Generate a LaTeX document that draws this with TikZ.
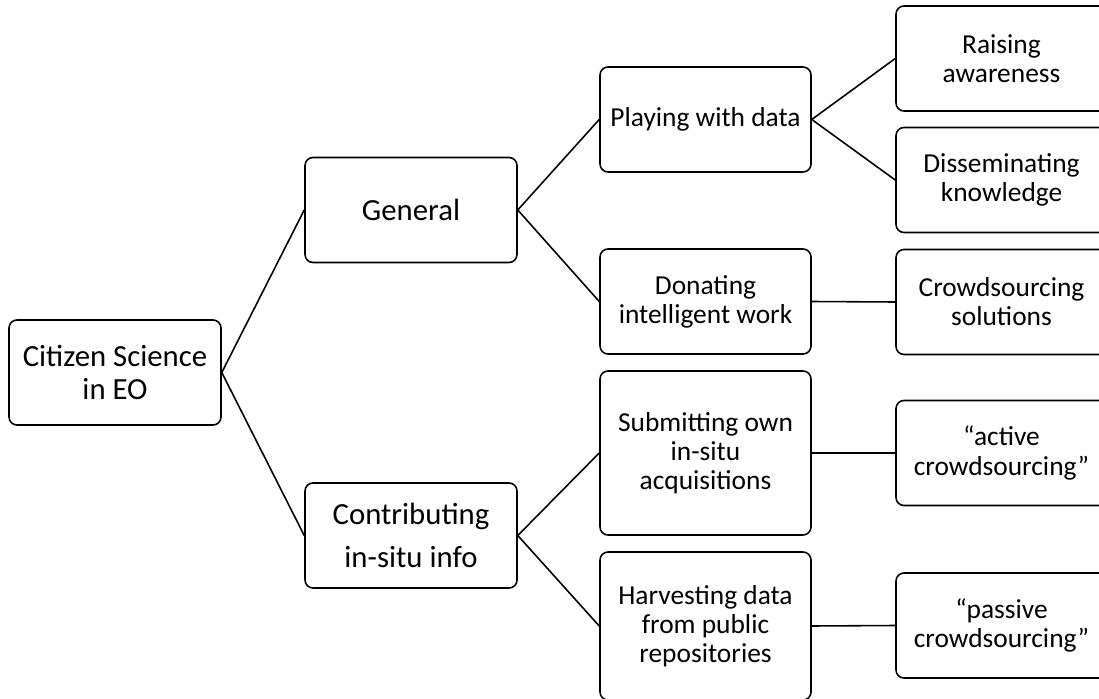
\documentclass[tikz,border=0pt]{standalone}
\usepackage{fontspec}
\setmainfont{Carlito}
\tikzset{
  box/.style={draw, line width=0.9pt, rounded corners=4.5pt, align=center,
    minimum width=4.22cm, minimum height=2.1cm, inner sep=2pt,
    font=\fontsize{15.6}{16.6}\selectfont},
  bigbox/.style={box, minimum width=4.24cm, font=\fontsize{17.5}{18.8}\selectfont},
  link/.style={line width=0.9pt}
}
\begin{document}
\begin{tikzpicture}[x=0.02cm,y=-0.02cm]
\clip (0,0) rectangle (1099,699);
% first levels
\node[bigbox] (cs) at (115,372.5) {Citizen Science\\in EO};
\node[bigbox] (gen) at (411,210) {General};
\node[bigbox] (contrib) at (411,535.5) {Contributing\\[6pt]in-situ info};
% middle column
\node[box] (play) at (705.5,119.5) {Playing with data};
\node[box] (donate) at (705.5,301.5) {Donating\\intelligent work};
\node[box, minimum height=3.28cm] (submit) at (705.5,453) {Submitting own\\in-situ\\acquisitions};
\node[box, minimum height=2.96cm] (harvest) at (705.5,626) {Harvesting data\\from public\\repositories};
% right column
\node[box] (raise) at (1001.5,58.5) {Raising\\awareness};
\node[box] (dissem) at (1001.5,180) {Disseminating\\knowledge};
\node[box] (crowd) at (1001.5,302) {Crowdsourcing\\solutions};
\node[box] (active) at (1001.5,453) {“active\\crowdsourcing”};
\node[box] (passive) at (1001.5,625.5) {“passive\\crowdsourcing”};
% links
\draw[link] (cs.east)--(gen.west);
\draw[link] (cs.east)--(contrib.west);
\draw[link] (gen.east)--(play.west);
\draw[link] (gen.east)--(donate.west);
\draw[link] (contrib.east)--(submit.west);
\draw[link] (contrib.east)--(harvest.west);
\draw[link] (play.east)--(raise.west);
\draw[link] (play.east)--(dissem.west);
\draw[link] (donate.east)--(crowd.west);
\draw[link] (submit.east)--(active.west);
\draw[link] (harvest.east)--(passive.west);
\end{tikzpicture}
\end{document}
